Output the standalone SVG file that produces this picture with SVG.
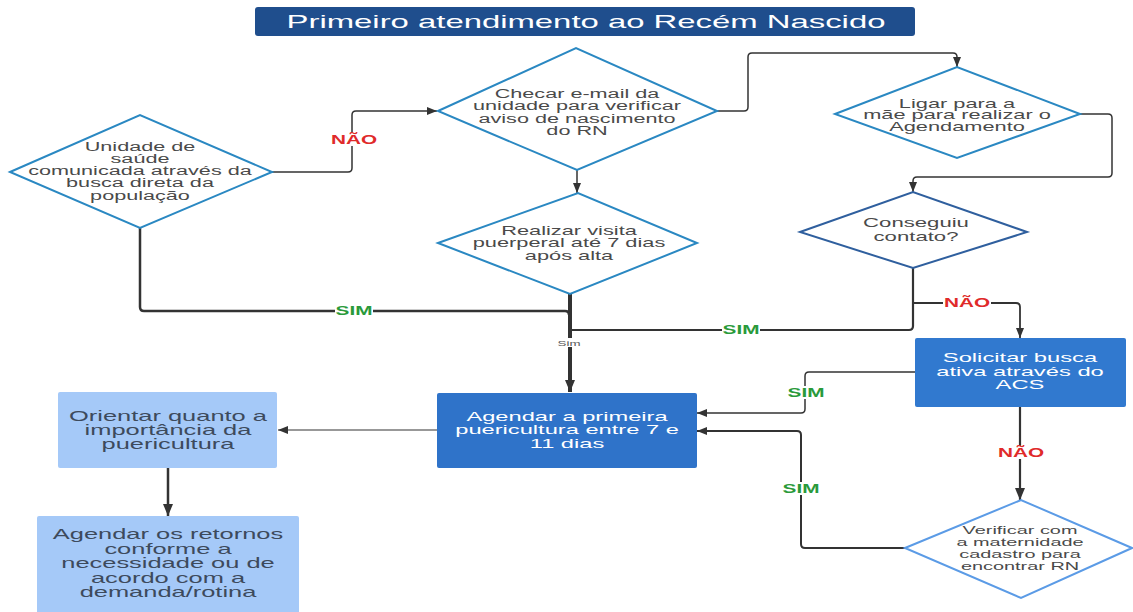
<svg xmlns="http://www.w3.org/2000/svg" width="1133" height="612" viewBox="0 0 1133 612">
<style>
.t{font-family:"Liberation Sans",Arial,sans-serif;text-anchor:middle}
.g{fill:#4a4a4a}
.w{fill:#ffffff}
.s{fill:#3d4a5c}
.d{fill:#ffffff;stroke:#2a88c2;stroke-width:2}
.c{fill:none;stroke:#333333;stroke-width:1.5}
.no{font-family:"Liberation Sans",Arial,sans-serif;font-weight:bold;font-size:12px;fill:#e02a2a;text-anchor:middle}
.yes{font-family:"Liberation Sans",Arial,sans-serif;font-weight:bold;font-size:12px;fill:#2a9a3a;text-anchor:middle}
.bg{fill:#ffffff}
</style>
<defs>
<marker id="ah" markerUnits="userSpaceOnUse" markerWidth="10" markerHeight="8" viewBox="0 0 10 8" refX="10" refY="4" orient="auto"><path d="M0,0 L10,4 L0,8 z" fill="#333333"/></marker>
<marker id="ahL" markerUnits="userSpaceOnUse" markerWidth="12" markerHeight="10" viewBox="0 0 12 10" refX="12" refY="5" orient="auto"><path d="M0,0 L12,5 L0,10 z" fill="#333333"/></marker>
</defs>
<rect width="1133" height="612" fill="#ffffff"/>

<g id="title">
<rect x="255" y="7" width="660" height="29" rx="3" fill="#1f4e8d"/>
<text class="t w" font-size="19" transform="translate(586 28) scale(1.73 1)">Primeiro atendimento ao Recém Nascido</text>
</g>

<g id="connectors">
<path class="c" d="M272,172 H348 Q352,172 352,168 V115 Q352,111 356,111 H437" marker-end="url(#ah)"/>
<path class="c" d="M577,170 V193" marker-end="url(#ah)"/>
<path class="c" d="M717,111 H744 Q748,111 748,107 V57 Q748,53 752,53 H953 Q957,53 957,57 V67" marker-end="url(#ah)"/>
<path class="c" d="M1080,114 H1108 Q1112,114 1112,118 V173 Q1112,177 1108,177 H917 Q913,177 913,181 V192" marker-end="url(#ah)"/>
<path class="c" style="stroke-width:2.2" d="M913,268 V326 Q913,330 909,330 H571"/>
<path class="c" style="stroke-width:1.8" d="M913,303 H1016 Q1020,303 1020,307 V338" marker-end="url(#ah)"/>
<path class="c" style="stroke-width:2.5" d="M140,228 V307 Q140,311 144,311 H565 Q569,311 569,315"/>
<path class="c" style="stroke-width:4" d="M570,294 V392" marker-end="url(#ahL)"/>
<path class="c" d="M915,372 H809 Q805,372 805,376 V409 Q805,413 801,413 H697" marker-end="url(#ah)"/>
<path class="c" style="stroke-width:2" d="M905,548 H805 Q801,548 801,544 V435 Q801,431 797,431 H697" marker-end="url(#ah)"/>
<path class="c" style="stroke-width:2.2" d="M1020,407 V500" marker-end="url(#ahL)"/>
<path class="c" style="stroke-width:1.2" d="M437,430 H278" marker-end="url(#ah)"/>
<path class="c" style="stroke-width:2.5" d="M168,468 V516" marker-end="url(#ahL)"/>
<rect class="bg" x="329" y="133" width="48" height="13"/>
<text class="no" transform="translate(354 144) scale(1.73 1)">NÃO</text>
<rect class="bg" x="335" y="304" width="38" height="13"/>
<text class="yes" transform="translate(354 315) scale(1.73 1)">SIM</text>
<rect class="bg" x="722" y="323" width="38" height="13"/>
<text class="yes" transform="translate(741 334) scale(1.73 1)">SIM</text>
<rect class="bg" x="943" y="296" width="48" height="13"/>
<text class="no" transform="translate(967 307) scale(1.73 1)">NÃO</text>
<rect class="bg" x="787" y="386" width="38" height="13"/>
<text class="yes" transform="translate(806 397) scale(1.73 1)">SIM</text>
<rect class="bg" x="997" y="446" width="48" height="13"/>
<text class="no" transform="translate(1021 457) scale(1.73 1)">NÃO</text>
<rect class="bg" x="782" y="482" width="38" height="13"/>
<text class="yes" transform="translate(801 493) scale(1.73 1)">SIM</text>
<rect class="bg" x="557" y="338" width="26" height="9"/>
<text class="t" font-size="7.7" fill="#555555" transform="translate(569 346) scale(1.73 1)">Sim</text>
</g>

<g id="n1">
<polygon class="d" points="10,172 140,115 272,172 140,228"/>
<text class="t g" font-size="12.5" transform="translate(140 150.5) scale(1.73 1)"><tspan x="0" dy="0">Unidade de</tspan><tspan x="0" dy="12.3">saúde</tspan><tspan x="0" dy="12.3">comunicada através da</tspan><tspan x="0" dy="12.3">busca direta da</tspan><tspan x="0" dy="12.3">população</tspan></text>
</g>

<g id="n2">
<polygon class="d" points="438,111 576,48 717,111 577,170"/>
<text class="t g" font-size="12.5" transform="translate(577 97.5) scale(1.73 1)"><tspan x="0" dy="0">Checar e-mail da</tspan><tspan x="0" dy="12.6">unidade para verificar</tspan><tspan x="0" dy="12.6">aviso de nascimento</tspan><tspan x="0" dy="12.6">do RN</tspan></text>
</g>

<g id="n3">
<polygon class="d" points="438,243 578,193 697,243 570,294"/>
<text class="t g" font-size="12.6" transform="translate(569 235) scale(1.73 1)"><tspan x="0" dy="0">Realizar visita</tspan><tspan x="0" dy="12.4">puerperal até 7 dias</tspan><tspan x="0" dy="12.4">após alta</tspan></text>
</g>

<g id="n4">
<polygon class="d" points="835,114 957,67 1080,114 957,158"/>
<text class="t g" font-size="12.6" transform="translate(957 107.5) scale(1.73 1)"><tspan x="0" dy="0">Ligar para a</tspan><tspan x="0" dy="12">mãe para realizar o</tspan><tspan x="0" dy="12">Agendamento</tspan></text>
</g>

<g id="n5">
<polygon class="d" style="stroke:#2f5f9e" points="800,232 913,192 1027,232 913,268"/>
<text class="t g" font-size="12.8" transform="translate(916 227) scale(1.73 1)"><tspan x="0" dy="0">Conseguiu</tspan><tspan x="0" dy="14">contato?</tspan></text>
</g>

<g id="n6">
<rect x="915" y="338" width="211" height="69" rx="2" fill="#3179cf"/>
<text class="t w" font-size="13.2" transform="translate(1020 362) scale(1.8 1)"><tspan x="0" dy="0">Solicitar busca</tspan><tspan x="0" dy="13.6">ativa através do</tspan><tspan x="0" dy="13.6">ACS</tspan></text>
</g>

<g id="n7">
<polygon class="d" style="stroke:#5b9be6" points="905,548 1021,500 1132,548 1021,598"/>
<text class="t g" font-size="11.5" transform="translate(1020 534) scale(1.73 1)"><tspan x="0" dy="0">Verificar com</tspan><tspan x="0" dy="12">a maternidade</tspan><tspan x="0" dy="12">cadastro para</tspan><tspan x="0" dy="12">encontrar RN</tspan></text>
</g>

<g id="n8">
<rect x="437" y="393" width="260" height="75" rx="2" fill="#2f73c9"/>
<text class="t w" font-size="12.8" transform="translate(567 421) scale(1.85 1)"><tspan x="0" dy="0">Agendar a primeira</tspan><tspan x="0" dy="13.4">puericultura entre 7 e</tspan><tspan x="0" dy="13.4">11 dias</tspan></text>
</g>

<g id="n9">
<rect x="58" y="392" width="219" height="76" rx="2" fill="#a5c9f8"/>
<text class="t s" font-size="14.7" transform="translate(168 421) scale(1.73 1)"><tspan x="0" dy="0">Orientar quanto a</tspan><tspan x="0" dy="14.2">importância da</tspan><tspan x="0" dy="14.2">puericultura</tspan></text>
</g>

<g id="n10">
<rect x="37" y="516" width="262" height="100" rx="2" fill="#a5c9f8"/>
<text class="t s" font-size="14.7" transform="translate(168 539) scale(1.73 1)"><tspan x="0" dy="0">Agendar os retornos</tspan><tspan x="0" dy="14.6">conforme a</tspan><tspan x="0" dy="14.6">necessidade ou de</tspan><tspan x="0" dy="14.6">acordo com a</tspan><tspan x="0" dy="14.6">demanda/rotina</tspan></text>
</g>
</svg>
